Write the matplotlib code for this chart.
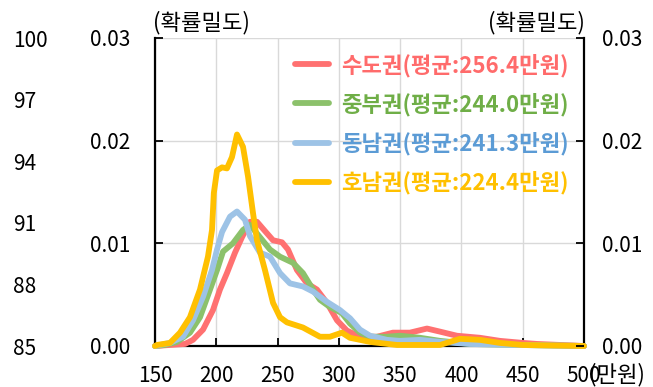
import matplotlib
matplotlib.use("Agg")
import matplotlib.pyplot as plt

plt.rcParams['font.family'] = ['Noto Sans CJK KR', 'DejaVu Sans']

# ---- data ----
red_x = [150, 162, 174.5, 181, 189.2, 197.3, 203, 208.7, 215.3, 221, 227.5, 233.2, 239.7, 246.3, 253.6, 258.5,
         265.8, 274, 282.1, 290.3, 298.5, 306.6, 317.2, 331.1, 344.1, 358, 371.9, 382.5, 396.3, 415.1, 431.4,
         450.2, 461.6, 500]
red_y = [0, 0.0001, 0.0002, 0.0006, 0.0016, 0.0035, 0.0055, 0.0071, 0.0091, 0.0106, 0.0121, 0.0121, 0.0112,
         0.0103, 0.0101, 0.0094, 0.0074, 0.0061, 0.0055, 0.0042, 0.0025, 0.0015, 0.0009, 0.0009, 0.0013, 0.0013,
         0.0017, 0.0014, 0.0010, 0.0008, 0.0005, 0.0003, 0.0002, 0]

green_x = [150, 158, 168, 178.5, 186.7, 194.9, 200.6, 205.5, 213.6, 221.8, 227.5, 235.6, 243.8, 252, 262.6,
           270.7, 278.9, 284.6, 292.7, 302.5, 309, 317.2, 325.4, 339.2, 349.8, 366.2, 382.5, 407, 448, 500]
green_y = [0, 0.0001, 0.0004, 0.0013, 0.0028, 0.0055, 0.0074, 0.0092, 0.0100, 0.0113, 0.0118, 0.0106, 0.0094,
           0.0087, 0.0081, 0.0071, 0.0055, 0.0045, 0.0038, 0.0032, 0.0022, 0.0013, 0.0009, 0.0009, 0.0010,
           0.0008, 0.0005, 0.0002, 0.0001, 0]

blue_x = [150, 162.2, 172.8, 181, 189.2, 196.5, 200.6, 204.7, 211.2, 216.9, 223.4, 227.5, 235.6, 243.8, 252,
          260.1, 270.7, 278.9, 290.3, 300.9, 309.1, 317.2, 325.4, 339.2, 349.8, 366.2, 382.5, 407, 447.7, 500]
blue_y = [0, 0.0003, 0.0009, 0.0025, 0.0048, 0.0074, 0.0094, 0.0111, 0.0126, 0.0131, 0.0123, 0.0107, 0.0091,
          0.0087, 0.0071, 0.0061, 0.0058, 0.0053, 0.0043, 0.0035, 0.0027, 0.0016, 0.0010, 0.0006, 0.0005,
          0.0006, 0.0004, 0.0002, 0.0001, 0]

yellow_x = [150, 151.6, 162.2, 170.4, 178.5, 186.7, 193.2, 196.5, 198.0, 200.6, 204.7, 208.7, 212.8, 216.9,
            221.8, 225.9, 229.9, 233.2, 239.7, 246.3, 252, 257.7, 270.7, 284.6, 292.7, 302.5, 309, 325.4, 347.4,
            382.5, 398.8, 415.1, 431.4, 450, 500]
yellow_y = [0, 0.0001, 0.0003, 0.0013, 0.0028, 0.0055, 0.0087, 0.0113, 0.0149, 0.0171, 0.0174, 0.0173, 0.0184,
            0.0206, 0.0194, 0.0165, 0.0130, 0.0103, 0.0074, 0.0042, 0.0028, 0.0023, 0.0018, 0.0009, 0.0009,
            0.0013, 0.0008, 0.0004, 0.0001, 0.0001, 0.0007, 0.0006, 0.0003, 0.0001, 0]

series_labels = ['수도권(평균:256.4만원)', '중부권(평균:244.0만원)', '동남권(평균:241.3만원)', '호남권(평균:224.4만원)']
x_ticks = [150, 200, 250, 300, 350, 400, 450, 500]
y_ticks = [0.00, 0.01, 0.02, 0.03]
outer_ticks = [85, 88, 91, 94, 97, 100]

line_colors = ['#FF7171', '#8CC16B', '#9DC3E6', '#FFC000']
text_colors = ['#FF6B6B', '#6FAE47', '#5B9BD5', '#FFC000']

FS = 15

# ---- figure ----
fig = plt.figure(figsize=(6.53, 3.87), dpi=100)
ax = fig.add_axes([155/653, 1-346/387, (584-155)/653, (346-38)/387])

xs = [red_x, green_x, blue_x, yellow_x]
ys = [red_y, green_y, blue_y, yellow_y]
handles = []
for x, y, c, lab in zip(xs, ys, line_colors, series_labels):
    h, = ax.plot(x, y, color=c, lw=4.2, label=lab, clip_on=False, zorder=5,
                 solid_capstyle='round', solid_joinstyle='round')
    handles.append(h)

ax.set_xlim(150, 500)
ax.set_ylim(0, 0.03)
ax.set_xticks(x_ticks)
ax.set_yticks(y_ticks)
ax.set_yticklabels([f'{v:.2f}' for v in y_ticks])
ax.grid(True, color='#D9D9D9', lw=1)
ax.set_axisbelow(True)
for s in ['left', 'right', 'bottom']:
    ax.spines[s].set_color('black')
    ax.spines[s].set_linewidth(1.6)
ax.spines['top'].set_visible(False)
ax.tick_params(axis='x', direction='in', length=6, width=1.3, labelsize=FS, pad=14, colors='black')
ax.tick_params(axis='y', direction='in', length=6, width=1.3, labelsize=FS, pad=18,
               left=True, right=True, labelleft=True, labelright=False)

# right density axis
axr = ax.twinx()
axr.set_ylim(0, 0.03)
axr.set_yticks(y_ticks)
axr.set_yticklabels([f'{v:.2f}' for v in y_ticks])
axr.tick_params(axis='y', direction='in', length=6, width=1.3, labelsize=FS, pad=13)
for s in axr.spines.values():
    s.set_visible(False)

# outer left axis (85-100)
axo = ax.twinx()
axo.yaxis.tick_left()
axo.set_ylim(85, 100)
axo.set_yticks(outer_ticks)
axo.tick_params(axis='y', length=0, labelsize=FS, pad=102)
for t in axo.get_yticklabels():
    t.set_horizontalalignment('left')
for s in axo.spines.values():
    s.set_visible(False)

leg = ax.legend(handles=handles, loc='upper right', bbox_to_anchor=(1.0, 1.0), frameon=False,
                prop={'weight': 'bold', 'size': 16}, handlelength=1.5, handletextpad=0.55,
                labelspacing=0.7, borderaxespad=0.3)
for t, c in zip(leg.get_texts(), text_colors):
    t.set_color(c)
leg.set_zorder(10)

fig.text(153/653, 1-23/387, '(확률밀도)', ha='left', va='center', fontsize=16)
fig.text(585/653, 1-23/387, '(확률밀도)', ha='right', va='center', fontsize=16)
fig.text(589/653, 1-375/387, '(만원)', ha='left', va='center', fontsize=16)

fig.savefig('out.png', dpi=100)
